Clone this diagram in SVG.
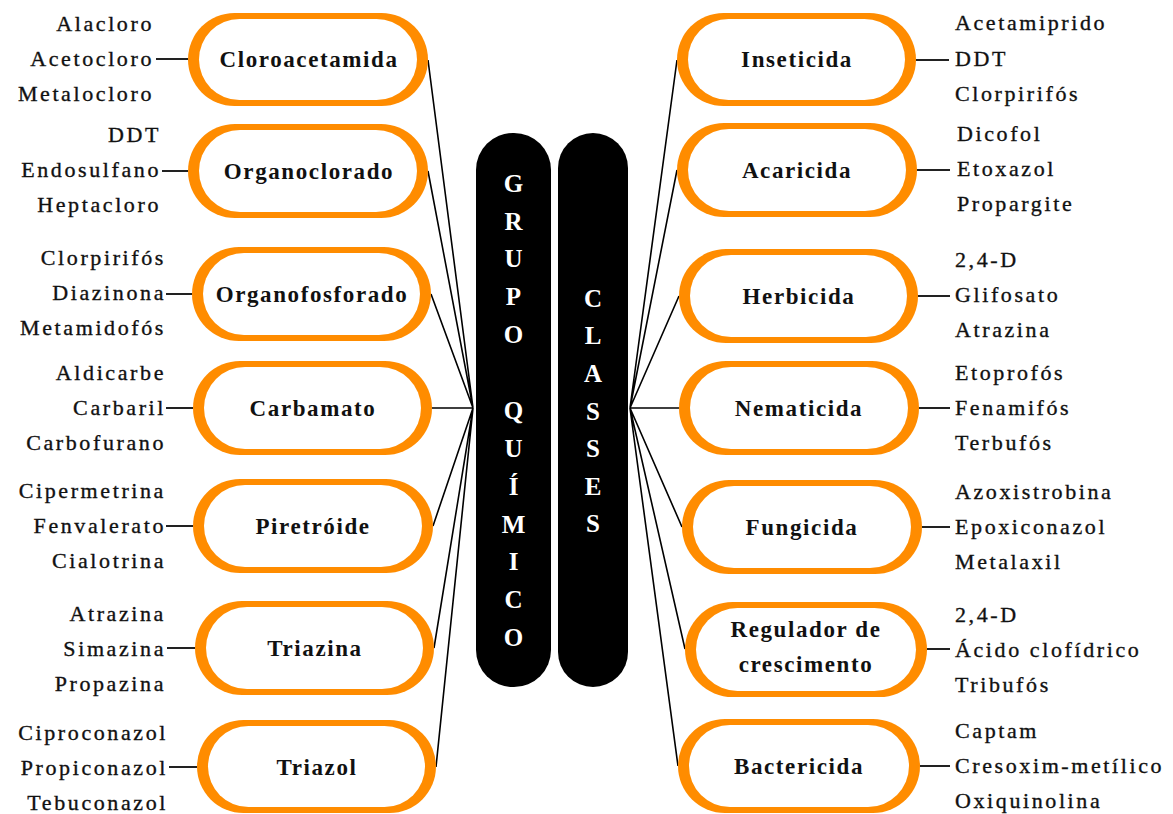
<svg xmlns="http://www.w3.org/2000/svg" width="1173" height="814" viewBox="0 0 1173 814">
<style>
.o{fill:#FF8C00}
.w{fill:#FFFFFF}
.lbl{font-family:"Liberation Serif",serif;font-weight:bold;font-size:23px;letter-spacing:1.6px;fill:#111;text-anchor:middle}
.it{font-family:"Liberation Serif",serif;font-size:22px;letter-spacing:2.6px;fill:#111;stroke:#111;stroke-width:0.35px}
.l{text-anchor:end}
.bar{fill:#000}
.bt{font-family:"Liberation Serif",serif;font-weight:bold;font-size:25px;fill:#fff;text-anchor:middle}
.c{stroke:#000;stroke-width:1.6;fill:none}
.d{stroke:#222;stroke-width:2;fill:none}
</style>
<rect width="1173" height="814" fill="#fff"/>
<g id="connectors">
<path class="c" d="M428,60 L473,408 M428,171 L473,408 M431,294 L473,408 M432,408 L473,408 M433,526 L473,408 M434,648 L473,408 M436,767 L473,408"/>
<path class="c" d="M630,408 L677,60 M630,408 L677,170 M630,408 L679,296 M630,408 L679,408 M630,408 L682,527 M630,408 L685,649 M630,408 L678,766"/>
<path class="d" d="M156,59 H188 M162,171 H188 M166,294 H192 M166,408 H193 M166,526 H193 M167,648 H195 M169,767 H197"/>
<path class="d" d="M916,60 H949 M917,170 H950 M918,296 H950 M919,408 H950 M922,527 H950 M927,649 H950 M920,766 H950"/>
</g>
<g id="grupo-quimico">
<rect class="bar" x="476" y="133" width="75" height="554" rx="37"/>
<text class="bt" x="513.5" y="192">G</text>
<text class="bt" x="513.5" y="230">R</text>
<text class="bt" x="513.5" y="267">U</text>
<text class="bt" x="513.5" y="305">P</text>
<text class="bt" x="513.5" y="343">O</text>
<text class="bt" x="513.5" y="419">Q</text>
<text class="bt" x="513.5" y="457">U</text>
<text class="bt" x="513.5" y="495">Í</text>
<text class="bt" x="513.5" y="533">M</text>
<text class="bt" x="513.5" y="570">I</text>
<text class="bt" x="513.5" y="608">C</text>
<text class="bt" x="513.5" y="646">O</text>
</g>
<g id="classes">
<rect class="bar" x="558" y="133" width="70" height="554" rx="35"/>
<text class="bt" x="593" y="307">C</text>
<text class="bt" x="593" y="344">L</text>
<text class="bt" x="593" y="382">A</text>
<text class="bt" x="593" y="420">S</text>
<text class="bt" x="593" y="457">S</text>
<text class="bt" x="593" y="495">E</text>
<text class="bt" x="593" y="532">S</text>
</g>
<g id="cloroacetamida">
<rect class="o" x="188" y="13" width="240" height="93" rx="46.5"/>
<rect class="w" x="199" y="19" width="218" height="81" rx="40.5"/>
<text class="lbl" x="309" y="67">Cloroacetamida</text>
<text class="it l" x="154" y="31">Alacloro</text>
<text class="it l" x="154" y="66">Acetocloro</text>
<text class="it l" x="154" y="101">Metalocloro</text>
</g>
<g id="organoclorado">
<rect class="o" x="188" y="124" width="240" height="94" rx="47"/>
<rect class="w" x="199" y="130" width="218" height="82" rx="41"/>
<text class="lbl" x="309" y="179">Organoclorado</text>
<text class="it l" x="161" y="142">DDT</text>
<text class="it l" x="161" y="177">Endosulfano</text>
<text class="it l" x="161" y="212">Heptacloro</text>
</g>
<g id="organofosforado">
<rect class="o" x="192" y="247" width="239" height="94" rx="47"/>
<rect class="w" x="203" y="253" width="217" height="82" rx="41"/>
<text class="lbl" x="312" y="302">Organofosforado</text>
<text class="it l" x="166" y="265">Clorpirifós</text>
<text class="it l" x="166" y="300">Diazinona</text>
<text class="it l" x="166" y="335">Metamidofós</text>
</g>
<g id="carbamato">
<rect class="o" x="193" y="361" width="239" height="94" rx="47"/>
<rect class="w" x="204" y="367" width="217" height="82" rx="41"/>
<text class="lbl" x="313" y="416">Carbamato</text>
<text class="it l" x="166" y="380">Aldicarbe</text>
<text class="it l" x="166" y="415">Carbaril</text>
<text class="it l" x="166" y="450">Carbofurano</text>
</g>
<g id="piretroide">
<rect class="o" x="193" y="479" width="240" height="94" rx="47"/>
<rect class="w" x="204" y="485" width="218" height="82" rx="41"/>
<text class="lbl" x="313" y="534">Piretróide</text>
<text class="it l" x="166" y="498">Cipermetrina</text>
<text class="it l" x="166" y="533">Fenvalerato</text>
<text class="it l" x="166" y="568">Cialotrina</text>
</g>
<g id="triazina">
<rect class="o" x="195" y="601" width="239" height="94" rx="47"/>
<rect class="w" x="206" y="607" width="217" height="82" rx="41"/>
<text class="lbl" x="315" y="656">Triazina</text>
<text class="it l" x="166" y="621">Atrazina</text>
<text class="it l" x="166" y="656">Simazina</text>
<text class="it l" x="166" y="691">Propazina</text>
</g>
<g id="triazol">
<rect class="o" x="197" y="720" width="239" height="93" rx="46.5"/>
<rect class="w" x="208" y="726" width="217" height="81" rx="40.5"/>
<text class="lbl" x="317" y="775">Triazol</text>
<text class="it l" x="168" y="740">Ciproconazol</text>
<text class="it l" x="168" y="775">Propiconazol</text>
<text class="it l" x="168" y="810">Tebuconazol</text>
</g>
<g id="inseticida">
<rect class="o" x="677" y="13" width="239" height="93" rx="46.5"/>
<rect class="w" x="688" y="19" width="217" height="81" rx="40.5"/>
<text class="lbl" x="797" y="67">Inseticida</text>
<text class="it" x="955" y="30">Acetamiprido</text>
<text class="it" x="955" y="66">DDT</text>
<text class="it" x="955" y="101">Clorpirifós</text>
</g>
<g id="acaricida">
<rect class="o" x="677" y="123" width="240" height="94" rx="47"/>
<rect class="w" x="688" y="129" width="218" height="82" rx="41"/>
<text class="lbl" x="797" y="178">Acaricida</text>
<text class="it" x="957" y="141">Dicofol</text>
<text class="it" x="957" y="176">Etoxazol</text>
<text class="it" x="957" y="211">Propargite</text>
</g>
<g id="herbicida">
<rect class="o" x="679" y="249" width="239" height="94" rx="47"/>
<rect class="w" x="690" y="255" width="217" height="82" rx="41"/>
<text class="lbl" x="799" y="304">Herbicida</text>
<text class="it" x="955" y="267">2,4-D</text>
<text class="it" x="955" y="302">Glifosato</text>
<text class="it" x="955" y="337">Atrazina</text>
</g>
<g id="nematicida">
<rect class="o" x="679" y="361" width="240" height="94" rx="47"/>
<rect class="w" x="690" y="367" width="218" height="82" rx="41"/>
<text class="lbl" x="799" y="416">Nematicida</text>
<text class="it" x="955" y="380">Etoprofós</text>
<text class="it" x="955" y="415">Fenamifós</text>
<text class="it" x="955" y="450">Terbufós</text>
</g>
<g id="fungicida">
<rect class="o" x="682" y="480" width="240" height="94" rx="47"/>
<rect class="w" x="693" y="486" width="218" height="82" rx="41"/>
<text class="lbl" x="802" y="535">Fungicida</text>
<text class="it" x="955" y="499">Azoxistrobina</text>
<text class="it" x="955" y="534">Epoxiconazol</text>
<text class="it" x="955" y="569">Metalaxil</text>
</g>
<g id="regulador-de-crescimento">
<rect class="o" x="685" y="602" width="242" height="95" rx="47.5"/>
<rect class="w" x="696" y="608" width="220" height="83" rx="41.5"/>
<text class="lbl" x="806" y="637">Regulador de</text>
<text class="lbl" x="806" y="672">crescimento</text>
<text class="it" x="955" y="622">2,4-D</text>
<text class="it" x="955" y="657">Ácido clofídrico</text>
<text class="it" x="955" y="692">Tribufós</text>
</g>
<g id="bactericida">
<rect class="o" x="678" y="719" width="242" height="94" rx="47"/>
<rect class="w" x="689" y="725" width="220" height="82" rx="41"/>
<text class="lbl" x="799" y="774">Bactericida</text>
<text class="it" x="955" y="738">Captam</text>
<text class="it" x="955" y="773">Cresoxim-metílico</text>
<text class="it" x="955" y="808">Oxiquinolina</text>
</g>
</svg>
